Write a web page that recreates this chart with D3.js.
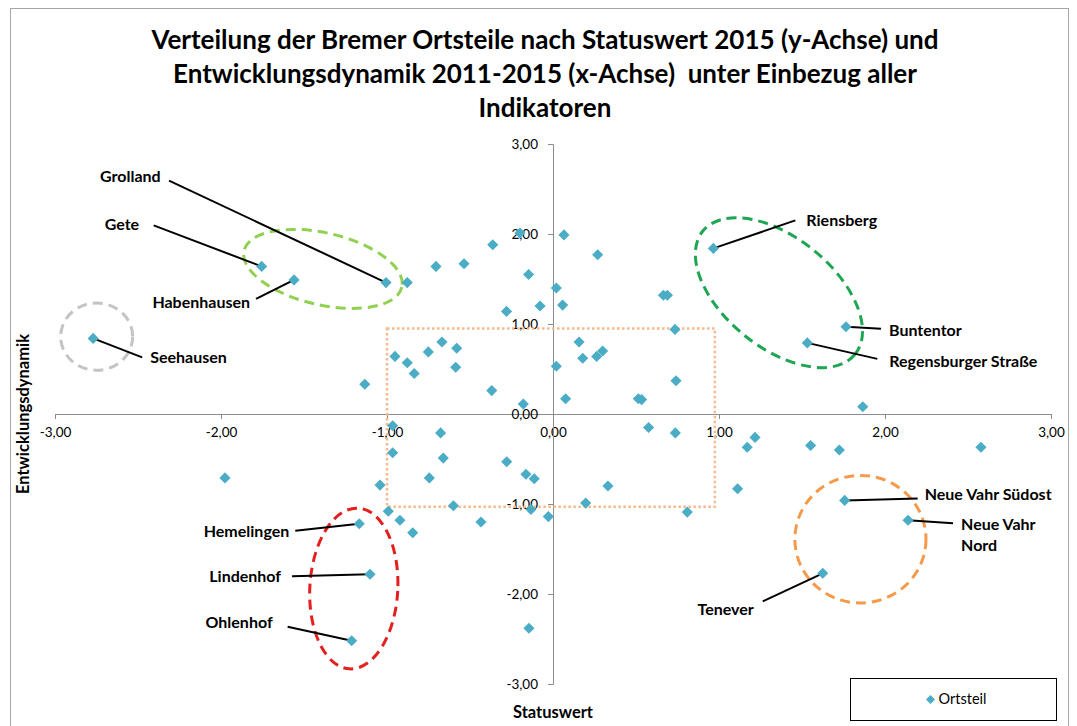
<!DOCTYPE html>
<html>
<head>
<meta charset="utf-8">
<script src="https://cdn.jsdelivr.net/npm/d3@7"></script>
<style>
  body { margin: 0; background: #fff; }
  svg text { font-family: Lato, "Open Sans", sans-serif; fill: #000; white-space: pre; }
</style>
</head>
<body>
<div id="chart"></div>
<script>
// Statuswert (x) und Entwicklungsdynamik (y) je Ortsteil, die ersten 13 sind beschriftet
const names = ["Grolland", "Gete", "Habenhausen", "Seehausen", "Riensberg", "Buntentor",
    "Regensburger Straße", "Hemelingen", "Lindenhof", "Ohlenhof", "Neue Vahr Südost",
    "Neue Vahr Nord", "Tenever"];

const statuswert = [-1.006, -1.755, -1.56, -2.77, 0.966, 1.765, 1.532, -1.167, -1.102, -1.213, 1.757, 2.139, 1.625,
    -0.878, -0.705, -0.536, -0.363, -0.199, -0.147, -0.28, -0.078, 0.02, -0.952, -0.878, -0.836,
    -0.751, -0.669, -0.58, -0.586, -1.134, -0.369, -0.179, 0.02, 0.066, 0.269, 0.058, 0.665,
    0.689, 0.735, 0.157, 0.179, 0.263, 0.299, 0.741, 0.076, 0.514, 0.534, 1.866,
    -1.976, -0.966, -0.966, -1.042, -0.677, -0.661, -0.745, -0.60, -0.992, -0.922, -0.845,
    -0.434, -0.279, -0.163, -0.113, -0.133, -0.028, -0.145,
    0.576, 0.737, 1.17, 1.217, 1.552, 1.725, 2.578, 0.331, 0.197, 0.809, 1.112];

const dynamik = [1.46, 1.64, 1.49, 0.84, 1.84, 0.97, 0.79, -1.22, -1.78, -2.52, -0.96, -1.18, -1.77,
    1.46, 1.64, 1.67, 1.88, 2.01, 1.55, 1.14, 1.20, 1.40, 0.64, 0.57, 0.45,
    0.69, 0.80, 0.73, 0.52, 0.33, 0.26, 0.11, 0.53, 1.99, 1.77, 1.21, 1.32,
    1.32, 0.94, 0.80, 0.62, 0.64, 0.70, 0.37, 0.17, 0.17, 0.16, 0.08,
    -0.71, -0.13, -0.43, -0.79, -0.21, -0.49, -0.71, -1.02, -1.08, -1.18, -1.32,
    -1.20, -0.53, -0.67, -0.72, -1.06, -1.14, -2.38,
    -0.15, -0.21, -0.37, -0.26, -0.35, -0.40, -0.37, -0.80, -0.99, -1.09, -0.83];

const xTicks = [-3, -2, -1, 0, 1, 2, 3];
const yTicks = [-3, -2, -1, 0, 1, 2, 3];

const titleLines = ["Verteilung der Bremer Ortsteile nach Statuswert 2015 (y-Achse) und",
    "Entwicklungsdynamik 2011-2015 (x-Achse)  unter Einbezug aller",
    "Indikatoren"];

// Markierungen (Mittelpunkt und Radien in Achseneinheiten)
const zones = [
    { cx: -1.386, cy: 1.612, rx: 0.488, ry: 0.40, rot: 13, color: "#92D050" },
    { cx: 1.361, cy: 1.348, rx: 0.59, ry: 0.61, rot: 39, color: "#1EA652" },
    { cx: -1.20, cy: -1.939, rx: 0.265, ry: 0.894, rot: 3, color: "#E3201E" },
    { cx: 1.852, cy: -1.391, rx: 0.395, ry: 0.709, rot: 0, color: "#F59A4A" },
    { cx: -2.749, cy: 0.86, rx: 0.217, ry: 0.374, rot: 0, color: "#C4C4C4" }
];
const box = { x0: -1.0, x1: 0.975, y0: -1.03, y1: 0.95 };

// Lage der Beschriftungen relativ zum Punkt (Pixel)
const labelLayout = [
    { tx: -286, ty: -106, anchor: "start", lx: -217, ly: -102 },
    { tx: -157, ty: -42, anchor: "start", lx: -108, ly: -41 },
    { tx: -44, ty: 22, anchor: "end", lx: -38, ly: 19 },
    { tx: 57, ty: 19, anchor: "start", lx: 49, ly: 19 },
    { tx: 93, ty: -28, anchor: "start", lx: 82, ly: -28 },
    { tx: 43, ty: 4, anchor: "start", lx: 35, ly: 2 },
    { tx: 82, ty: 18, anchor: "start", lx: 70, ly: 16 },
    { tx: -70, ty: 8, anchor: "end", lx: -64, ly: 7 },
    { tx: -89, ty: 2, anchor: "end", lx: -78, ly: 2 },
    { tx: -79, ty: -18, anchor: "end", lx: -64, ly: -14 },
    { tx: 80, ty: -6, anchor: "start", lx: 73, ly: -2 },
    { tx: 53, ty: 4, anchor: "start", lx: 45, ly: 3 },
    { tx: -69, ty: 36, anchor: "end", lx: -60, ly: 28 }
];

const points = statuswert.map((v, i) => ({ x: v, y: dynamik[i], name: names[i] || null }));

const W = 1077, H = 726;
const plot = { left: 55, right: 1051, top: 144, bottom: 684 };

const svg = d3.select("#chart").append("svg")
    .attr("width", W)
    .attr("height", H);

svg.append("rect")
    .attr("x", 10.5).attr("y", 8.5)
    .attr("width", 1058).attr("height", 730)
    .attr("fill", "#fff")
    .attr("stroke", "#A6A6A6");

const x = d3.scaleLinear().domain([-3, 3]).range([plot.left, plot.right]);
const y = d3.scaleLinear().domain([-3, 3]).range([plot.bottom, plot.top]);

const loc = d3.formatLocale({ decimal: ",", thousands: ".", grouping: [3], currency: ["", " €"], minus: "-" });
const fmt = loc.format(".2f");

// Titel
svg.append("g").selectAll("text")
    .data(titleLines)
    .join("text")
    .attr("x", 545)
    .attr("y", (d, i) => 40 + i * 34)
    .attr("dy", "0.35em")
    .attr("text-anchor", "middle")
    .attr("font-size", 26)
    .attr("font-weight", "bold")
    .attr("fill", "#1f1f1f")
    .text(d => d);

// Achsen durch den Nullpunkt
const xAxis = svg.append("g")
    .attr("transform", `translate(0,${y(0)})`)
    .call(d3.axisBottom(x).tickValues(xTicks).tickFormat(fmt).tickSize(5).tickPadding(8));
const yAxis = svg.append("g")
    .attr("transform", `translate(${x(0)},0)`)
    .call(d3.axisLeft(y).tickValues(yTicks).tickFormat(fmt).tickSize(5).tickPadding(8));

[xAxis, yAxis].forEach(a => {
    a.select(".domain").attr("stroke", "#8C8C8C");
    a.selectAll(".tick line").attr("stroke", "#8C8C8C");
    a.selectAll(".tick text")
        .attr("font-family", "Lato, sans-serif")
        .attr("font-size", 13.5)
        .attr("fill", "#222");
});
yAxis.selectAll(".tick text").attr("dx", "-2");

// Achsentitel
svg.append("text")
    .attr("x", x(0)).attr("y", 712)
    .attr("dy", "0.35em")
    .attr("text-anchor", "middle")
    .attr("font-size", 16.5)
    .attr("font-weight", "bold")
    .text("Statuswert");

svg.append("text")
    .attr("transform", `translate(23,${y(0)}) rotate(-90)`)
    .attr("dy", "0.35em")
    .attr("text-anchor", "middle")
    .attr("font-size", 16.5)
    .attr("font-weight", "bold")
    .text("Entwicklungsdynamik");

// Gepunktetes Rechteck
svg.append("rect")
    .attr("x", x(box.x0))
    .attr("y", y(box.y1))
    .attr("width", x(box.x1) - x(box.x0))
    .attr("height", y(box.y0) - y(box.y1))
    .attr("fill", "none")
    .attr("stroke", "#F8B98C")
    .attr("stroke-width", 2.5)
    .attr("stroke-dasharray", "2.5,2.5");

// Ellipsen
svg.append("g").selectAll("ellipse")
    .data(zones)
    .join("ellipse")
    .attr("cx", d => x(d.cx))
    .attr("cy", d => y(d.cy))
    .attr("rx", d => x(d.cx + d.rx) - x(d.cx))
    .attr("ry", d => y(d.cy) - y(d.cy + d.ry))
    .attr("transform", d => `rotate(${d.rot},${x(d.cx)},${y(d.cy)})`)
    .attr("fill", "none")
    .attr("stroke", d => d.color)
    .attr("stroke-width", 3)
    .attr("stroke-dasharray", "10,6");

// Beschriftete Punkte
const labeled = points.filter(d => d.name);

svg.append("g").selectAll("line")
    .data(labeled)
    .join("line")
    .attr("x1", d => x(d.x))
    .attr("y1", d => y(d.y))
    .attr("x2", (d, i) => x(d.x) + labelLayout[i].lx)
    .attr("y2", (d, i) => y(d.y) + labelLayout[i].ly)
    .attr("stroke", "#000")
    .attr("stroke-width", 2);

const diamond = d3.symbol().type(d3.symbolSquare).size(62);

svg.append("g").selectAll("path")
    .data(points)
    .join("path")
    .attr("d", diamond)
    .attr("transform", d => `translate(${x(d.x)},${y(d.y)}) rotate(45)`)
    .attr("fill", "#4BACC6");

svg.append("g").selectAll("text")
    .data(labeled)
    .join("text")
    .attr("x", (d, i) => x(d.x) + labelLayout[i].tx)
    .attr("y", (d, i) => y(d.y) + labelLayout[i].ty)
    .attr("text-anchor", (d, i) => labelLayout[i].anchor)
    .attr("font-size", 16)
    .attr("font-weight", "bold")
    .each(function (d) {
        const parts = d.name === "Neue Vahr Nord" ? ["Neue Vahr", "Nord"] : [d.name];
        d3.select(this).selectAll("tspan")
            .data(parts)
            .join("tspan")
            .attr("x", d3.select(this).attr("x"))
            .attr("dy", (p, j) => j === 0 ? "0.35em" : "1.3em")
            .text(p => p);
    });

// Legende
const legend = svg.append("g").attr("transform", "translate(850.5,678.5)");
legend.append("rect")
    .attr("width", 206).attr("height", 42)
    .attr("fill", "#fff")
    .attr("stroke", "#000");
legend.append("path")
    .attr("d", d3.symbol().type(d3.symbolSquare).size(40))
    .attr("transform", "translate(80,21) rotate(45)")
    .attr("fill", "#4BACC6");
legend.append("text")
    .attr("x", 88).attr("y", 20)
    .attr("dy", "0.35em")
    .attr("font-size", 14.5)
    .text("Ortsteil");
</script>
</body>
</html>
